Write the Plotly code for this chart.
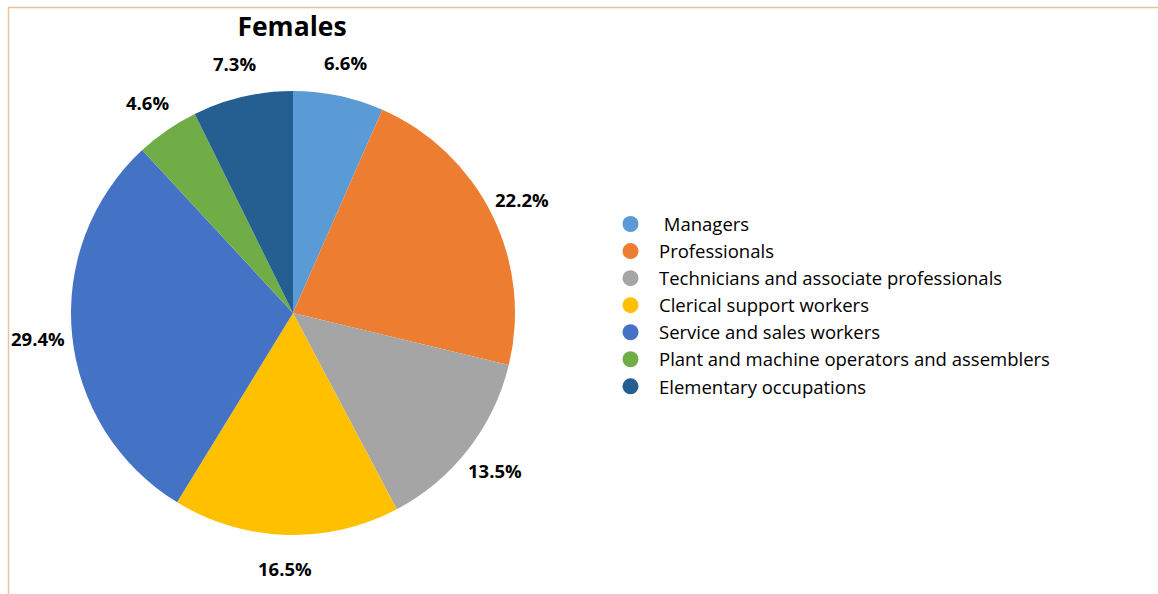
import math
import plotly.graph_objects as go

# Occupation shares of employed females (%)
categories = [
    "Managers",
    "Professionals",
    "Technicians and associate professionals",
    "Clerical support workers",
    "Service and sales workers",
    "Plant and machine operators and assemblers",
    "Elementary occupations",
]
shares = [6.6, 22.2, 13.5, 16.5, 29.4, 4.6, 7.3]
colors = ["#5B9BD5", "#ED7D31", "#A5A5A5", "#FFC000", "#4472C4", "#70AD47", "#255E91"]

W, H = 1158, 594
FONT = "Open Sans"

# pie domain in pixels (left, right, top, bottom)
px_l, px_r, px_t, px_b = 71, 515, 91, 535
dom_x = [px_l / W, px_r / W]
dom_y = [1 - px_b / H, 1 - px_t / H]

fig = go.Figure()
fig.add_trace(go.Pie(
    values=shares,
    labels=categories,
    marker=dict(colors=colors, line=dict(width=0)),
    sort=False,
    direction="clockwise",
    rotation=0,
    textinfo="none",
    hoverinfo="label+percent",
    showlegend=False,
    domain=dict(x=dom_x, y=dom_y),
))

# legend entries drawn as circles
for name, col in zip(categories, colors):
    label = "\u00a0" + name if name == "Managers" else name
    fig.add_trace(go.Scatter(
        x=[None], y=[None], mode="markers", name=label,
        marker=dict(symbol="circle", size=16, color=col),
        hoverinfo="skip",
    ))

# percentage labels placed outside each slice, at the slice's mid-angle
cx = (px_l + px_r) / 2
cy = (px_t + px_b) / 2
R = min(px_r - px_l, px_b - px_t) / 2
label_r = R * 1.153
total = sum(shares)
cum = 0.0
for v in shares:
    mid = (cum + v / 2) / total * 2 * math.pi
    cum += v
    lx = cx + label_r * math.sin(mid)
    ly = cy - label_r * math.cos(mid)
    fig.add_annotation(
        x=lx / W, y=1 - ly / H, xref="paper", yref="paper",
        text=f"<b>{v:.1f}%</b>", showarrow=False,
        xanchor="center", yanchor="middle",
        font=dict(family=FONT, size=18.5, color="#000000"),
    )

# chart frame (top and left edges)
frame_col = "#E6C3A1"
fig.add_shape(type="line", xref="paper", yref="paper",
              x0=8 / W, x1=1, y0=1 - 7.5 / H, y1=1 - 7.5 / H,
              line=dict(color=frame_col, width=1.5))
fig.add_shape(type="line", xref="paper", yref="paper",
              x0=8.5 / W, x1=8.5 / W, y0=0, y1=1 - 7 / H,
              line=dict(color=frame_col, width=1.5))

fig.update_layout(
    width=W, height=H,
    margin=dict(l=0, r=0, t=0, b=0),
    paper_bgcolor="white",
    plot_bgcolor="white",
    title=dict(text="<b>Females</b>", x=292 / W, xanchor="center",
               y=1 - 27 / H, yanchor="middle",
               font=dict(family=FONT, size=26.5, color="#000000")),
    xaxis=dict(visible=False),
    yaxis=dict(visible=False),
    legend=dict(x=602 / W, xanchor="left", y=1 - 305.5 / H, yanchor="middle",
                font=dict(family=FONT, size=18.5, color="#000000"),
                itemwidth=47,
                bgcolor="rgba(0,0,0,0)", itemclick=False),
    showlegend=True,
)

fig.write_html("out.html")
